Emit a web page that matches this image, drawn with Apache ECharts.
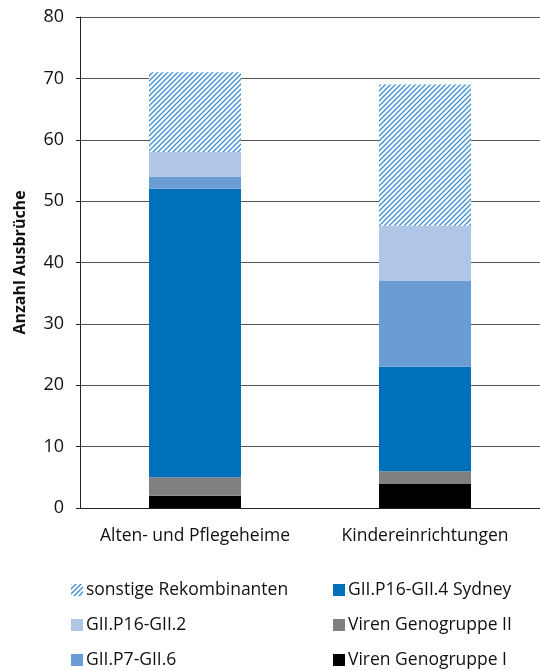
<!DOCTYPE html>
<html>
<head>
<meta charset="utf-8">
<script src="https://cdn.jsdelivr.net/npm/echarts@6/dist/echarts.min.js"></script>
<style>
  html, body { margin: 0; padding: 0; background: #fff; }
  #chart { width: 540px; height: 671px; }
</style>
</head>
<body>
<div id="chart"></div>
<script>
const categories = ['Alten- und Pflegeheime', 'Kindereinrichtungen']
const genogruppe1 = [2, 4]
const genogruppe2 = [3, 2]
const sydney = [47, 17]
const p7gii6 = [2, 14]
const p16gii2 = [4, 9]
const sonstige = [13, 23]
const yTicks = [0, 10, 20, 30, 40, 50, 60, 70, 80]

// diagonal hatch for "sonstige Rekombinanten"
function hatch() {
  const size = 5
  const c = document.createElement('canvas')
  c.width = size
  c.height = size
  const ctx = c.getContext('2d')
  ctx.fillStyle = '#fff'
  ctx.fillRect(0, 0, size, size)
  ctx.strokeStyle = '#3b8fd4'
  ctx.lineWidth = 1.3
  ctx.beginPath()
  ctx.moveTo(-1, size + 1)
  ctx.lineTo(size + 1, -1)
  ctx.moveTo(-1, 1)
  ctx.lineTo(1, -1)
  ctx.moveTo(size - 1, size + 1)
  ctx.lineTo(size + 1, size - 1)
  ctx.stroke()
  return { image: c, repeat: 'repeat' }
}

const font = '"Open Sans", sans-serif'
const chart = echarts.init(document.getElementById('chart'))

function bar(name, data, color) {
  return {
    name: name,
    type: 'bar',
    stack: 'all',
    barWidth: '40%',
    data: data,
    itemStyle: { color: color },
  }
}

const legendText = { fontFamily: font, fontSize: 17.5, color: '#111', padding: [0, 0, 0, -2] }

function legendCol(left, names) {
  return {
    left: left,
    top: 581,
    height: 90,
    padding: 0,
    orient: 'vertical',
    itemGap: 17,
    itemWidth: 12,
    itemHeight: 12,
    icon: 'rect',
    textStyle: legendText,
    data: names,
  }
}

chart.setOption({
  backgroundColor: '#fff',
  animation: false,
  grid: { left: 80, right: 0, top: 17, bottom: 163 },
  legend: [
    legendCol(71, ['sonstige Rekombinanten', 'GII.P16-GII.2', 'GII.P7-GII.6']),
    legendCol(333, ['GII.P16-GII.4 Sydney', 'Viren Genogruppe II', 'Viren Genogruppe I']),
  ],
  xAxis: {
    type: 'category',
    data: categories,
    axisLine: { lineStyle: { color: '#222', width: 1 } },
    axisTick: { show: false },
    axisLabel: { interval: 0, fontFamily: font, fontSize: 17.5, color: '#111', margin: 19 },
  },
  yAxis: {
    type: 'value',
    min: yTicks[0],
    max: yTicks[yTicks.length - 1],
    interval: 10,
    name: 'Anzahl Ausbrüche',
    nameLocation: 'middle',
    nameGap: 52,
    nameTextStyle: { fontFamily: font, fontSize: 16, fontWeight: 'bold', color: '#111' },
    axisLine: { show: true, lineStyle: { color: '#222', width: 1 } },
    axisTick: { show: true, length: 4, lineStyle: { color: '#222' } },
    axisLabel: { fontFamily: font, fontSize: 18, color: '#111', margin: 16 },
    splitLine: { show: true, lineStyle: { color: '#555', width: 1 } },
  },
  series: [
    bar('Viren Genogruppe I', genogruppe1, '#000000'),
    bar('Viren Genogruppe II', genogruppe2, '#808083'),
    bar('GII.P16-GII.4 Sydney', sydney, '#0070ba'),
    bar('GII.P7-GII.6', p7gii6, '#6a9dd3'),
    bar('GII.P16-GII.2', p16gii2, '#afc6e7'),
    bar('sonstige Rekombinanten', sonstige, hatch()),
  ],
})
</script>
</body>
</html>
